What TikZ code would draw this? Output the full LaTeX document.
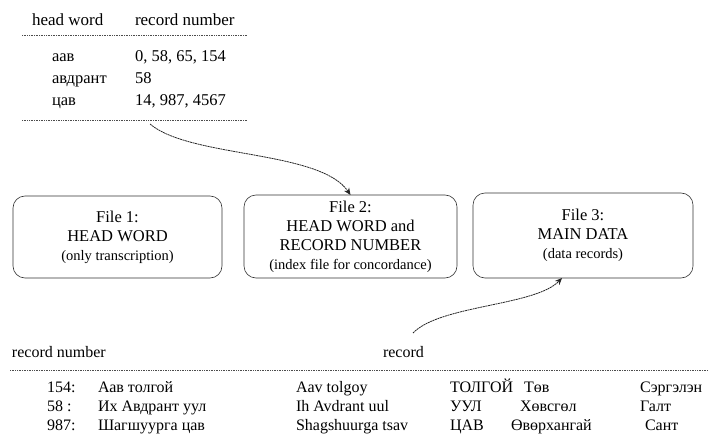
\documentclass[tikz,border=0pt]{standalone}
\usepackage{fontspec}
\setmainfont{Liberation Serif}
\usetikzlibrary{arrows.meta}
\begin{document}
\begin{tikzpicture}[x=1pt,y=-1pt,
  every node/.style={inner sep=0pt, outer sep=0pt},
  hdr/.style={anchor=base west, font=\fontsize{17}{19}\selectfont},
  cell/.style={anchor=base west, font=\fontsize{16.5}{19}\selectfont},
  rowtxt/.style={anchor=base west, font=\fontsize{16}{18}\selectfont},
  rule/.style={draw=black!70, line width=0.6pt, dash pattern=on 1pt off 0.7pt},
  filebox/.style={draw=black!80, line width=0.6pt, rounded corners=12pt, align=center, font=\fontsize{16.5}{19}\selectfont},
  conn/.style={draw=black!85, line width=0.8pt, dash pattern=on 2pt off 0.6pt, -{Stealth[length=7pt,width=6pt]}},
]
\useasboundingbox (0,0) rectangle (708,438);

% top table
\node[hdr] (hw) at (32,26) {head word};
\node[hdr] (rn) at (135,26) {record number};
\coordinate (t1a) at (22,35); \coordinate (t1b) at (247,35);
\draw[rule] (t1a) -- (t1b);
\node[cell] (w1) at (52,62) {аав};
\node[cell] (n1) at (135,62) {0, 58, 65, 154};
\node[cell] (w2) at (52,84) {авдрант};
\node[cell] (n2) at (135,84) {58};
\node[cell] (w3) at (52,106) {цав};
\node[cell] (n3) at (135,106) {14, 987, 4567};
\coordinate (t2a) at (22,120); \coordinate (t2b) at (247,120);
\draw[rule] (t2a) -- (t2b);

% file boxes
\node[filebox, minimum width=209pt, minimum height=82pt] (f1) at (117.5,237)
  {File 1:\\HEAD WORD\\{\fontsize{14.5}{16}\selectfont (only transcription)}};
\node[filebox, minimum width=213pt, minimum height=83pt] (f2) at (350.5,236.5)
  {File 2:\\HEAD WORD and\\RECORD NUMBER\\{\fontsize{14.5}{16}\selectfont (index file for concordance)}};
\node[filebox, minimum width=220pt, minimum height=85pt] (f3) at (583,235.5)
  {File 3:\\MAIN DATA\\{\fontsize{14.5}{16}\selectfont (data records)}};

% connectors
\coordinate (s1) at (150,124);
\draw[conn] (s1) .. controls (190,158) and (320,150) .. (f2.north);
\coordinate (s2) at (413,333);
\coordinate (e2) at (562,278);
\draw[conn] (s2) .. controls (440,305) and (535,306) .. (e2);

% bottom table
\node[hdr, font=\fontsize{16}{18}\selectfont] (brn) at (12,357) {record number};
\node[hdr, font=\fontsize{16}{18}\selectfont] (brec) at (383,357) {record};
\coordinate (b1a) at (10,370); \coordinate (b1b) at (708,370);
\draw[rule] (b1a) -- (b1b);

\node[rowtxt] (r1a) at (47,392) {154:};
\node[rowtxt] (r1b) at (98,392) {Аав толгой};
\node[rowtxt] (r1c) at (296,392) {Aav tolgoy};
\node[rowtxt] (r1d) at (450,392) {ТОЛГОЙ};
\node[rowtxt] (r1e) at (524,392) {Төв};
\node[rowtxt] (r1f) at (640,392) {Сэргэлэн};

\node[rowtxt] (r2a) at (47,411) {58 :};
\node[rowtxt] (r2b) at (98,411) {Их Авдрант уул};
\node[rowtxt] (r2c) at (296,411) {Ih Avdrant uul};
\node[rowtxt] (r2d) at (450,411) {УУЛ};
\node[rowtxt] (r2e) at (520,411) {Хөвсгөл};
\node[rowtxt] (r2f) at (640,411) {Галт};

\node[rowtxt] (r3a) at (47,430) {987:};
\node[rowtxt] (r3b) at (98,430) {Шагшуурга цав};
\node[rowtxt] (r3c) at (296,430) {Shagshuurga tsav};
\node[rowtxt] (r3d) at (450,430) {ЦАВ};
\node[rowtxt] (r3e) at (511,430) {Өвөрхангай};
\node[rowtxt] (r3f) at (645,430) {Сант};
\end{tikzpicture}
\end{document}
